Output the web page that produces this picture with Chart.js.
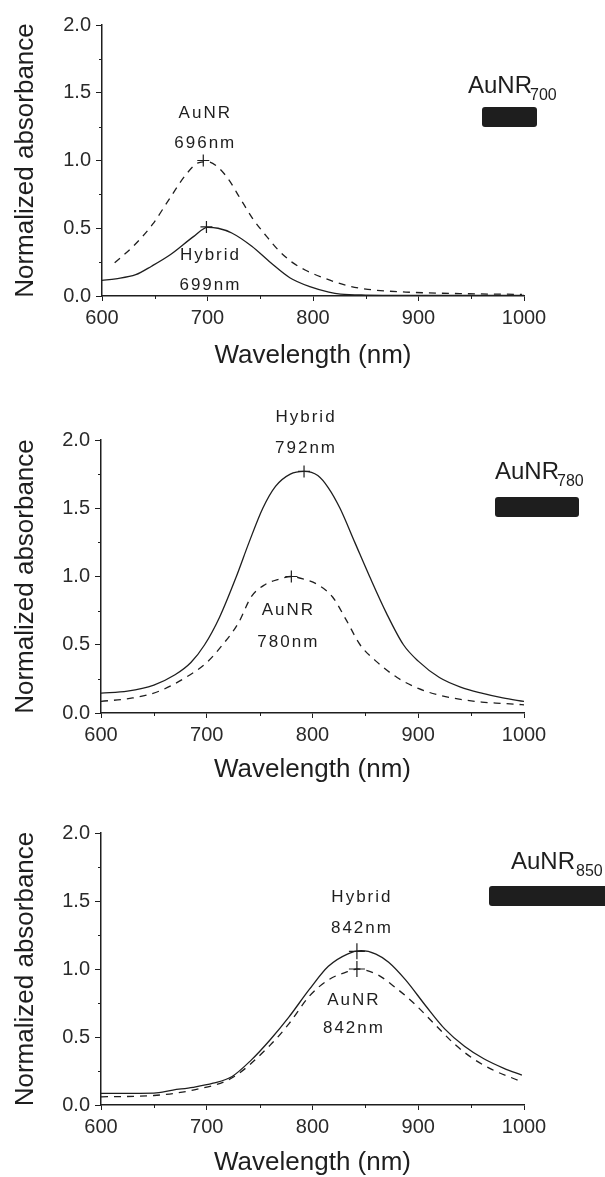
<!DOCTYPE html>
<html>
<head>
<meta charset="utf-8">
<script src="https://cdn.jsdelivr.net/npm/chart.js@4.4.1/dist/chart.umd.min.js"></script>
<style>
body { margin: 0; background: #fff; }
.panel { position: absolute; left: 0; width: 605px; }
</style>
</head>
<body>
<div class="panel" style="top:0px"><canvas id="c1" width="605" height="380"></canvas></div>
<div class="panel" style="top:380px"><canvas id="c2" width="605" height="410"></canvas></div>
<div class="panel" style="top:790px"><canvas id="c3" width="605" height="387"></canvas></div>
<script>
// ---- data (wavelength in nm, normalized absorbance) ----
// panel 1 : AuNR700
var p1HybridWave = [600, 613, 632, 647, 665, 687, 700, 710, 723, 742, 760, 778, 797, 815, 826, 850, 900, 950, 1000];
var p1HybridVal  = [0.115, 0.127, 0.157, 0.22, 0.306, 0.44, 0.507, 0.50, 0.465, 0.367, 0.245, 0.135, 0.069, 0.029, 0.014, 0.007, 0.005, 0.004, 0.004];
var p1AunrWave = [612, 630, 648, 665, 680, 692, 700, 710, 720, 731, 743, 756, 767, 780, 793, 808, 833, 852, 888, 943, 998];
var p1AunrVal  = [0.245, 0.37, 0.53, 0.73, 0.90, 0.985, 0.99, 0.95, 0.86, 0.72, 0.57, 0.44, 0.34, 0.25, 0.19, 0.14, 0.075, 0.049, 0.029, 0.017, 0.012];
var p1PeakWave = [699, 696];
var p1PeakVal  = [0.51, 1.0];

// panel 2 : AuNR780
var p2HybridWave = [600, 625, 650, 670, 685, 698, 712, 728, 740, 753, 765, 779, 792, 805, 815, 826, 840, 854, 870, 886, 900, 920, 940, 960, 980, 1000];
var p2HybridVal  = [0.145, 0.16, 0.205, 0.28, 0.37, 0.50, 0.70, 1.0, 1.25, 1.5, 1.66, 1.75, 1.77, 1.74, 1.65, 1.5, 1.25, 1.0, 0.73, 0.5, 0.38, 0.26, 0.19, 0.145, 0.11, 0.085];
var p2AunrWave = [600, 630, 655, 680, 700, 715, 730, 742, 755, 768, 780, 792, 805, 819, 832, 845, 860, 880, 900, 920, 940, 960, 980, 1000];
var p2AunrVal  = [0.085, 0.11, 0.16, 0.26, 0.37, 0.50, 0.66, 0.85, 0.94, 0.98, 1.0, 0.98, 0.94, 0.85, 0.68, 0.50, 0.38, 0.26, 0.18, 0.13, 0.10, 0.08, 0.07, 0.06];
var p2PeakWave = [792, 780];
var p2PeakVal  = [1.77, 1.0];

// panel 3 : AuNR850
var p3HybridWave = [600, 650, 668, 687, 706, 724, 742, 760, 778, 797, 815, 833, 846, 860, 872, 888, 907, 925, 944, 962, 981, 998];
var p3HybridVal  = [0.086, 0.088, 0.11, 0.13, 0.16, 0.21, 0.33, 0.48, 0.65, 0.85, 1.02, 1.11, 1.135, 1.11, 1.05, 0.92, 0.73, 0.56, 0.43, 0.34, 0.27, 0.22];
var p3AunrWave = [600, 650, 687, 724, 760, 778, 797, 815, 833, 842, 861, 879, 897, 916, 934, 952, 970, 995];
var p3AunrVal  = [0.06, 0.07, 0.11, 0.2, 0.44, 0.6, 0.8, 0.92, 0.98, 1.0, 0.96, 0.86, 0.74, 0.59, 0.45, 0.34, 0.26, 0.18];
var p3PeakWave = [842, 842];
var p3PeakVal  = [1.13, 1.0];

var yTicks = [0, 0.5, 1.0, 1.5, 2.0];
var xTicks = [600, 700, 800, 900, 1000];

var ink = '#1e1e1e';
var font = '"Liberation Sans", Arial, sans-serif';

function pts(xs, ys) {
    var out = [];
    for (var i = 0; i < xs.length; i++) out.push({x: xs[i], y: ys[i]});
    return out;
}

// short minor ticks between the labelled ones
var minorTicks = {
    id: 'minorTicks',
    afterDraw: function (chart) {
        var c = chart.ctx, x = chart.scales.x, y = chart.scales.y, a = chart.chartArea;
        c.save();
        c.strokeStyle = ink;
        c.lineWidth = 1;
        c.beginPath();
        for (var v = 650; v < 1000; v += 100) {
            var px = Math.round(x.getPixelForValue(v)) + 0.5;
            c.moveTo(px, a.bottom); c.lineTo(px, a.bottom + 3);
        }
        for (var w = 0.25; w < 2; w += 0.5) {
            var py = Math.round(y.getPixelForValue(w)) + 0.5;
            c.moveTo(a.left - 3, py); c.lineTo(a.left, py);
        }
        c.stroke();
        c.restore();
    }
};

function makePanel(id, d) {
    var notes = {
        id: 'notes',
        afterDraw: function (chart) {
            var c = chart.ctx, x = chart.scales.x, y = chart.scales.y;
            c.save();
            c.fillStyle = ink;
            // peak annotations
            c.font = '17px ' + font;
            c.letterSpacing = '2px';
            c.textAlign = 'center';
            c.textBaseline = 'middle';
            d.notes.forEach(function (n) {
                var px = x.getPixelForValue(d.peakWave[n.peak]);
                var py = y.getPixelForValue(d.peakVal[n.peak]);
                c.fillText(n.text, px + n.dx, py + n.dy);
            });
            // sample label with subscript and black bar
            c.letterSpacing = '0px';
            c.textAlign = 'left';
            c.font = '24px ' + font;
            c.fillText('AuNR', d.tag.x, d.tag.y);
            c.font = '16px ' + font;
            c.fillText(d.tag.sub, d.tag.subX, d.tag.y + 10);
            c.beginPath();
            c.roundRect(d.bar.x, d.bar.y, d.bar.w, d.bar.h, 3);
            c.fill();
            c.restore();
        }
    };

    return new Chart(document.getElementById(id).getContext('2d'), {
        type: 'line',
        data: {
            datasets: [{
                label: 'Hybrid',
                data: pts(d.hybridWave, d.hybridVal),
                borderColor: ink,
                borderWidth: 1.3,
                pointRadius: 0,
                cubicInterpolationMode: 'monotone'
            }, {
                label: 'AuNR',
                data: pts(d.aunrWave, d.aunrVal),
                borderColor: ink,
                borderWidth: 1.3,
                borderDash: [7, 6],
                pointRadius: 0,
                cubicInterpolationMode: 'monotone'
            }, {
                label: 'peaks',
                data: pts(d.peakWave, d.peakVal),
                showLine: false,
                pointStyle: 'cross',
                pointRadius: d.cross,
                borderColor: ink,
                borderWidth: 1.2
            }]
        },
        options: {
            responsive: false,
            animation: false,
            layout: {padding: d.pad},
            plugins: {legend: {display: false}, tooltip: {enabled: false}},
            scales: {
                x: {
                    type: 'linear', min: 600, max: 1000,
                    afterFit: function (s) { s.height = d.xHeight; },
                    afterBuildTicks: function (s) { s.ticks = xTicks.map(function (v) { return {value: v}; }); },
                    grid: {drawOnChartArea: false, tickLength: 5, color: ink},
                    border: {color: ink, width: 1.5},
                    ticks: {color: '#2a2a2a', font: {family: font, size: 20}, padding: 5, maxRotation: 0,
                            callback: function (v) { return String(v); }},
                    title: {display: true, text: 'Wavelength (nm)', color: ink,
                            font: {family: font, size: 26, lineHeight: 1}, padding: {top: 0, bottom: 0}}
                },
                y: {
                    min: 0, max: 2,
                    afterFit: function (s) { s.width = d.yWidth; },
                    afterBuildTicks: function (s) { s.ticks = yTicks.map(function (v) { return {value: v}; }); },
                    grid: {drawOnChartArea: false, tickLength: 6, color: ink},
                    border: {color: ink, width: 1.5},
                    ticks: {color: '#2a2a2a', font: {family: font, size: 20}, padding: 5,
                            callback: function (v) { return v.toFixed(1); }},
                    title: {display: true, text: 'Normalized absorbance', color: ink,
                            font: {family: font, size: 26}, padding: {top: 10, bottom: 4}}
                }
            }
        },
        plugins: [minorTicks, notes]
    });
}

makePanel('c1', {
    hybridWave: p1HybridWave, hybridVal: p1HybridVal,
    aunrWave: p1AunrWave, aunrVal: p1AunrVal,
    peakWave: p1PeakWave, peakVal: p1PeakVal,
    cross: 6,
    pad: {top: 25, left: 0, right: 81, bottom: 11}, xHeight: 73, yWidth: 102,
    notes: [
        {peak: 1, text: 'AuNR', dx: 2, dy: -47},
        {peak: 1, text: '696nm', dx: 2, dy: -17},
        {peak: 0, text: 'Hybrid', dx: 4, dy: 28},
        {peak: 0, text: '699nm', dx: 4, dy: 58}
    ],
    tag: {x: 468, y: 86, sub: '700', subX: 530},
    bar: {x: 482, y: 107, w: 55, h: 20}
});

makePanel('c2', {
    hybridWave: p2HybridWave, hybridVal: p2HybridVal,
    aunrWave: p2AunrWave, aunrVal: p2AunrVal,
    peakWave: p2PeakWave, peakVal: p2PeakVal,
    cross: 6,
    pad: {top: 60, left: 0, right: 81, bottom: 7}, xHeight: 70, yWidth: 101,
    notes: [
        {peak: 0, text: 'Hybrid', dx: 2, dy: -54},
        {peak: 0, text: '792nm', dx: 2, dy: -23},
        {peak: 1, text: 'AuNR', dx: -3, dy: 34},
        {peak: 1, text: '780nm', dx: -3, dy: 66}
    ],
    tag: {x: 495, y: 92, sub: '780', subX: 557},
    bar: {x: 495, y: 117, w: 84, h: 20}
});

makePanel('c3', {
    hybridWave: p3HybridWave, hybridVal: p3HybridVal,
    aunrWave: p3AunrWave, aunrVal: p3AunrVal,
    peakWave: p3PeakWave, peakVal: p3PeakVal,
    cross: 8,
    pad: {top: 43, left: 0, right: 81, bottom: 1}, xHeight: 71, yWidth: 101,
    notes: [
        {peak: 0, text: 'Hybrid', dx: 5, dy: -54},
        {peak: 0, text: '842nm', dx: 5, dy: -23},
        {peak: 1, text: 'AuNR', dx: -3, dy: 31},
        {peak: 1, text: '842nm', dx: -3, dy: 59}
    ],
    tag: {x: 511, y: 72, sub: '850', subX: 576},
    bar: {x: 489, y: 96, w: 125, h: 20}
});
</script>
</body>
</html>
